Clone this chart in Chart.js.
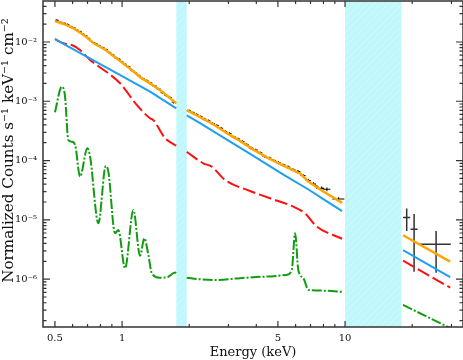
<!DOCTYPE html>
<html><head><meta charset="utf-8">
<script src="https://cdn.jsdelivr.net/npm/chart.js@4.4.1/dist/chart.umd.min.js"></script>
<style>html,body{margin:0;padding:0;background:#fff;}canvas{display:block;}</style>
</head><body>
<canvas id="c" width="463" height="360"></canvas>
<script>
// ---- axes ----
const xRange = [0.442, 33.8];
const yRange = [1.56e-7, 0.0491];
const xTickValues = [0.5, 1, 5, 10];
const xTickLabels = ['0.5', '1', '5', '10'];
const yTickValues = [1e-6, 1e-5, 1e-4, 1e-3, 1e-2];
const yTickLabels = ['10⁻⁶', '10⁻⁵', '10⁻⁴', '10⁻³', '10⁻²'];
const xTitle = 'Energy (keV)';
const yTitle = 'Normalized Counts s⁻¹ keV⁻¹ cm⁻²';

// ---- ignored energy bands (keV) ----
const ignoredBands = [[1.75, 1.95], [10, 17.9]];

// ---- total model (orange) ----
const totalE = [0.5,0.527,0.565,0.605,0.648,0.694,0.743,0.797,0.854,0.914,0.979,1.05,1.124,1.204,1.335,1.48,1.642,1.75,1.85,1.95,2.237,2.566,2.949,3.38,3.88,4.46,5.29,5.85,6.07,6.28,6.85,7.99,9.5,9.7,13,18.2,29.6];
const totalV = [0.0225,0.0211,0.0193,0.0170,0.0144,0.0120,0.0096,0.0083,0.0071,0.0058,0.0048,0.0039,0.0032,0.00255,0.0020,0.00155,0.00113,0.00092,null,7.1e-4,5.4e-4,4.1e-4,2.9e-4,2.15e-4,1.53e-4,1.13e-4,8.2e-5,6.9e-5,6.4e-5,6.1e-5,4.45e-5,3.0e-5,2.03e-5,1.93e-5,null,5.5e-6,1.97e-6];

// ---- power law (blue) ----
const powE = [0.5,0.7,1.0,1.335,1.75,1.85,1.95,2.237,2.949,3.88,5.29,6.85,7.99,9.7,13,18.2,29.6];
const powV = [0.0112,0.00556,0.00266,0.00145,7.6e-4,null,5.78e-4,4.29e-4,2.25e-4,1.2e-4,5.78e-5,3.25e-5,2.24e-5,1.4e-5,null,3.1e-6,1.08e-6];

// ---- second component (red dashed) ----
const compE = [0.5,0.545,0.595,0.648,0.719,0.77,0.98,1.164,1.335,1.38,1.559,1.728,1.75,1.85,1.95,2.313,2.525,2.897,3.75,4.61,5.86,6.61,7.47,9.7,13,18.2,29.6];
const compV = [0.0112,0.0095,0.0089,0.00733,0.00497,0.00409,0.00201,8.67e-4,5.16e-4,4.84e-4,2.38e-4,1.83e-4,1.78e-4,null,1.40e-4,9.0e-5,7.9e-5,4.7e-5,3.07e-5,2.31e-5,1.67e-5,1.29e-5,7.7e-6,4.8e-6,null,2.05e-6,7.2e-7];

// ---- line component (green dash-dot) ----
const lineE = [0.5,0.537,0.555,0.574,0.595,0.616,0.648,0.699,0.719,0.783,0.845,0.868,0.93,0.962,1.031,1.124,1.204,1.259,1.312,1.359,1.47,1.586,1.728,1.75,1.85,1.95,2.237,2.658,3.38,4.30,5.48,5.77,5.97,6.17,6.51,6.85,8.29,9.7,13,18.2,29.6];
const lineV = [6.52e-4,1.76e-3,1.20e-3,2.22e-4,2.08e-4,1.83e-4,5.36e-5,1.61e-4,1.16e-4,8.77e-6,8.11e-5,6.5e-5,5.94e-6,6.76e-6,1.53e-6,1.47e-5,2.48e-6,4.9e-6,2.56e-6,1.26e-6,1.06e-6,1.07e-6,1.29e-6,1.25e-6,null,1.06e-6,9.95e-7,9.7e-7,1.04e-6,1.10e-6,1.18e-6,1.43e-6,5.94e-6,1.43e-6,1.03e-6,6.58e-7,6.4e-7,6.1e-7,null,3.67e-7,1.5e-7];

// ---- observed data (black crosses) ----
const dataE = [0.51,0.53,0.55,0.57,0.59,0.61,0.63,0.65,0.67,0.69,0.71,0.73,0.75,0.77,0.79,0.82,0.85,0.88,0.91,0.94,0.97,1.00,1.03,1.07,1.11,1.15,1.19,1.24,1.29,1.34,1.40,1.46,1.52,1.58,1.64,1.70,
 2.00,2.08,2.16,2.25,2.34,2.44,2.55,2.66,2.78,2.90,3.03,3.17,3.31,3.46,3.62,3.79,3.97,4.16,4.36,4.57,4.79,5.03,5.28,5.55,5.84,6.15,6.48,6.84,7.22,7.47,7.86,8.29,9.35,
 18.9,20.4,25.6];
const dataV = [0.0232,0.0214,0.0206,0.0197,0.0180,0.0171,0.0158,0.0148,0.0135,0.0126,0.0114,0.0102,0.0096,0.0091,0.0086,0.0080,0.0074,0.0066,0.0060,0.0054,0.0051,0.0046,0.0042,0.0038,0.0033,0.0030,0.0027,0.0024,0.00222,0.00203,0.00180,0.00160,0.00140,0.00125,0.00115,0.00097,
 6.9e-4,6.4e-4,6.0e-4,5.5e-4,5.0e-4,4.7e-4,4.2e-4,3.9e-4,3.5e-4,3.1e-4,2.85e-4,2.5e-4,2.3e-4,2.1e-4,1.85e-4,1.62e-4,1.5e-4,1.35e-4,1.18e-4,1.1e-4,1.0e-4,9.2e-5,8.4e-5,7.8e-5,7.0e-5,6.5e-5,5.6e-5,4.6e-5,4.0e-5,3.6e-5,3.4e-5,3.28e-5,2.25e-5,
 1.1e-5,6.93e-6,3.88e-6];
const dataEw = [0.01,0.01,0.01,0.01,0.01,0.01,0.01,0.01,0.01,0.01,0.01,0.01,0.01,0.01,0.012,0.015,0.015,0.015,0.015,0.015,0.015,0.015,0.018,0.02,0.02,0.02,0.02,0.025,0.025,0.028,0.03,0.03,0.03,0.03,0.03,0.03,
 0.04,0.04,0.04,0.045,0.045,0.05,0.055,0.055,0.06,0.06,0.065,0.07,0.07,0.075,0.08,0.085,0.09,0.095,0.1,0.105,0.11,0.12,0.13,0.135,0.15,0.155,0.17,0.18,0.19,0.12,0.2,0.3,0.58,
 0.7,0.75,4.2];
const dataVerr = [0.0009,0.0008,0.0008,0.0008,0.0007,0.0007,0.0006,0.0006,0.0005,0.0005,0.0005,0.0004,0.0004,0.0004,0.00035,0.00032,0.0003,0.00027,0.00025,0.00022,0.0002,0.00019,0.00017,0.00016,0.00014,0.00013,0.00012,0.0001,0.0001,0.00009,0.00008,0.00007,0.00006,0.00006,0.00005,0.00005,
 3.5e-5,3.2e-5,3.0e-5,2.8e-5,2.5e-5,2.4e-5,2.1e-5,2.0e-5,1.8e-5,1.6e-5,1.5e-5,1.3e-5,1.2e-5,1.1e-5,1.0e-5,9e-6,8e-6,7e-6,6.5e-6,6e-6,5.5e-6,5e-6,4.8e-6,4.5e-6,4.2e-6,4e-6,3.6e-6,3.2e-6,2.9e-6,2.7e-6,2.6e-6,2.4e-6,1.6e-6,
 4.5e-6,5.6e-6,2.6e-6];

const FONT = 'DejaVu Serif';
const toXY = (E, V) => E.map((e, i) => ({x: e, y: V[i]}));

const overlayPlugin = {
  id: 'overlay',
  beforeDatasetsDraw(chart) {
    const {ctx, chartArea: a, scales: {x, y}} = chart;
    ctx.save();
    ctx.beginPath(); ctx.rect(a.left, a.top, a.right - a.left, a.bottom - a.top); ctx.clip();
    for (const [e0, e1] of ignoredBands) {
      const x0 = x.getPixelForValue(e0), x1 = x.getPixelForValue(e1);
      ctx.fillStyle = '#bff7fb';
      ctx.fillRect(x0, a.top, x1 - x0, a.bottom - a.top);
      ctx.save();
      ctx.beginPath(); ctx.rect(x0, a.top, x1 - x0, a.bottom - a.top); ctx.clip();
      ctx.strokeStyle = 'rgba(255,255,255,0.35)'; ctx.lineWidth = 1;
      const h = a.bottom - a.top;
      for (let k = -h - 10; k < (x1 - x0) + 10; k += 7) {
        ctx.beginPath(); ctx.moveTo(x0 + k, a.bottom); ctx.lineTo(x0 + k + h, a.top); ctx.stroke();
      }
      ctx.restore();
    }
    for (let i = 0; i < dataE.length; i++) {
      const hi = dataE[i] > 15;
      ctx.strokeStyle = hi ? '#333' : '#000';
      ctx.lineWidth = hi ? 1.5 : 1.1;
      const px = x.getPixelForValue(dataE[i]);
      const py = y.getPixelForValue(dataV[i]);
      const xl = x.getPixelForValue(dataE[i] - dataEw[i]);
      const xr = x.getPixelForValue(dataE[i] + dataEw[i]);
      const yt = y.getPixelForValue(dataV[i] + dataVerr[i]);
      const yb = y.getPixelForValue(Math.max(dataV[i] - dataVerr[i], yRange[0] * 0.5));
      ctx.beginPath();
      ctx.moveTo(xl, py); ctx.lineTo(xr, py);
      ctx.moveTo(px, yt); ctx.lineTo(px, yb);
      ctx.stroke();
    }
    ctx.restore();
  },
  afterDraw(chart) {
    const {ctx, chartArea: a, scales: {x, y}} = chart;
    ctx.save();
    ctx.strokeStyle = '#333';
    ctx.lineWidth = 1.5;
    ctx.strokeRect(a.left, a.top, a.right - a.left, a.bottom - a.top);
    ctx.lineWidth = 1.2;
    const isMajor = (v, arr) => arr.some(t => Math.abs(t - v) / t < 1e-9);
    ctx.beginPath();
    for (const dec of [0.1, 1, 10]) {
      for (let k = 1; k <= 9; k++) {
        const v = k * dec;
        if (v < xRange[0] || v > xRange[1]) continue;
        const px = x.getPixelForValue(v);
        const len = isMajor(v, xTickValues) ? 6 : 3;
        ctx.moveTo(px, a.bottom); ctx.lineTo(px, a.bottom - len);
        ctx.moveTo(px, a.top); ctx.lineTo(px, a.top + len);
      }
    }
    for (let n = -7; n <= -1; n++) {
      for (let k = 1; k <= 9; k++) {
        const v = k * Math.pow(10, n);
        if (v < yRange[0] || v > yRange[1]) continue;
        const py = y.getPixelForValue(v);
        const len = k === 1 ? 7 : 3.5;
        ctx.moveTo(a.left, py); ctx.lineTo(a.left + len, py);
        ctx.moveTo(a.right, py); ctx.lineTo(a.right - len, py);
      }
    }
    ctx.stroke();
    // y title
    ctx.fillStyle = '#111';
    let fs = 14;
    ctx.font = fs + 'px "' + FONT + '"';
    const w = ctx.measureText(yTitle).width;
    fs = fs * 265 / w;
    ctx.font = fs.toFixed(2) + 'px "' + FONT + '"';
    ctx.translate(13, 150.5);
    ctx.rotate(-Math.PI / 2);
    ctx.textAlign = 'center';
    ctx.textBaseline = 'alphabetic';
    ctx.fillText(yTitle, 0, 0);
    ctx.restore();
  }
};

const labelFor = (vals, labels) => (v) => {
  const i = vals.findIndex(t => Math.abs(t - v) / t < 1e-6);
  return i >= 0 ? labels[i] : '';
};

new Chart(document.getElementById('c'), {
  type: 'line',
  data: {
    datasets: [
      {data: toXY(totalE, totalV), borderColor: '#ffa500', borderWidth: 2.5, pointRadius: 0, tension: 0, spanGaps: false, clip: 0},
      {data: toXY(powE, powV), borderColor: '#1e9ff0', borderWidth: 2, pointRadius: 0, tension: 0, spanGaps: false, clip: 0},
      {data: toXY(compE, compV), borderColor: '#ff1010', borderWidth: 2, borderDash: [13, 4], pointRadius: 0, cubicInterpolationMode: 'monotone', spanGaps: false, clip: 0},
      {data: toXY(lineE, lineV), borderColor: '#119c11', borderWidth: 2, borderDash: [10, 2, 2, 2], pointRadius: 0, cubicInterpolationMode: 'monotone', spanGaps: false, clip: 0}
    ]
  },
  options: {
    responsive: false,
    animation: false,
    devicePixelRatio: 1,
    events: [],
    layout: {padding: {top: 1, right: 0, bottom: 0, left: 0}},
    plugins: {legend: {display: false}, tooltip: {enabled: false}},
    scales: {
      x: {
        type: 'logarithmic', min: xRange[0], max: xRange[1],
        afterBuildTicks(s) { s.ticks = xTickValues.map(v => ({value: v})); },
        afterFit(s) { s.height = 33; s.paddingLeft = 0; s.paddingRight = 0; },
        ticks: {callback: labelFor(xTickValues, xTickLabels), autoSkip: false, maxRotation: 0, minRotation: 0, padding: 5, font: {family: FONT, size: 10}, color: '#111'},
        grid: {display: false, drawTicks: false},
        border: {display: false},
        title: {display: true, text: xTitle, font: {family: FONT, size: 13}, color: '#111', padding: {top: 0, bottom: 0}}
      },
      y: {
        type: 'logarithmic', min: yRange[0], max: yRange[1],
        afterBuildTicks(s) { s.ticks = yTickValues.map(v => ({value: v})); },
        afterFit(s) { s.width = 43; s.paddingTop = 0; s.paddingBottom = 0; },
        ticks: {callback: labelFor(yTickValues, yTickLabels), autoSkip: false, padding: 6, font: {family: FONT, size: 10}, color: '#111'},
        grid: {display: false, drawTicks: false},
        border: {display: false},
        title: {display: false}
      }
    }
  },
  plugins: [overlayPlugin]
});
</script>
</body></html>
